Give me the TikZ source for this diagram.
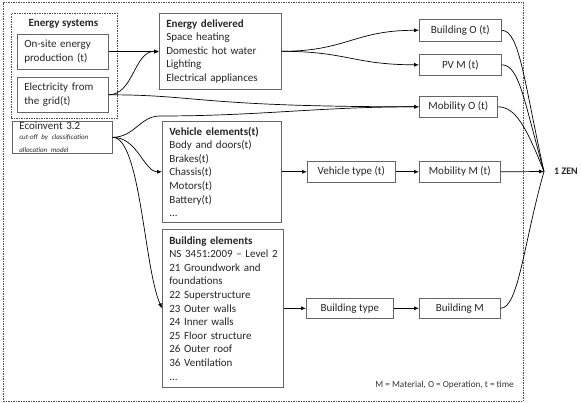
\documentclass[tikz,border=0pt]{standalone}
\usepackage{fontspec}
\setmainfont{Carlito}
\usetikzlibrary{arrows.meta}
\begin{document}
\begin{tikzpicture}[x=1pt,y=-1pt,
  txt/.style={text=black!85, font=\fontsize{11}{13.6}\selectfont},
  box/.style={txt, draw=black!60, line width=0.6pt, fill=white, inner ysep=0pt, inner xsep=7pt, anchor=north west},
  lbox/.style={box, align=left, text width=#1},
  sbox/.style={box, inner xsep=0pt, align=center},
  frame/.style={draw=black!70, line width=0.6pt, dash pattern=on 1.5pt off 1pt, anchor=north west, inner sep=0pt},
  conn/.style={line width=0.7pt, black},
  arr/.style={conn, -{Latex[length=5pt,width=4pt]}}]
\useasboundingbox (0,0) rectangle (582,403);
% frames
\node[frame, minimum width=520pt, minimum height=399pt] (outer) at (3,2) {};
\node[frame, minimum width=106pt, minimum height=105pt] (es) at (11,13) {};
\node[txt, font=\fontsize{11}{13.6}\selectfont\bfseries, anchor=west] (estitle) at (25,24) {Energy systems};
% left boxes
\node[lbox=77pt, minimum height=35pt] (onsite) at (17,34) {On-site energy\\production (t)};
\node[lbox=77pt, minimum height=35pt] (elec) at (17,77) {Electricity from\\the grid(t)};
\node[lbox=86pt, minimum height=32pt] (eco) at (12,121) {Ecoinvent 3.2\par\vspace{1.5pt}\fontsize{7}{8.3}\selectfont\itshape \mbox{cut-off by classification}\\allocation model};
% middle boxes
\node[lbox=108pt, minimum height=76pt] (ed) at (159,13) {\textbf{Energy delivered}\\Space heating\\Domestic hot water\\Lighting\\Electrical appliances};
\node[lbox=105pt, minimum height=101pt] (vehel) at (162,121) {\textbf{Vehicle elements(t)}\\Body and doors(t)\\Brakes(t)\\Chassis(t)\\Motors(t)\\Battery(t)\\...};
\node[lbox=107pt, minimum height=158pt] (bldel) at (162,229) {\textbf{Building elements}\\\mbox{NS 3451:2009 -- Level 2}\\21 Groundwork and\\foundations\\22 Superstructure\\23 Outer walls\\24 Inner walls\\25 Floor structure\\26 Outer roof\\36 Ventilation\\...};
% right boxes
\node[sbox, minimum width=82pt, minimum height=22pt] (bO) at (419,19) {Building O (t)};
\node[sbox, minimum width=82pt, minimum height=21pt] (pvM) at (419,54) {PV M (t)};
\node[sbox, minimum width=78pt, minimum height=21pt] (mobO) at (419,96) {Mobility O (t)};
\node[sbox, minimum width=88pt, minimum height=21pt] (vtype) at (307,161) {Vehicle type (t)};
\node[sbox, minimum width=81pt, minimum height=21pt] (mobM) at (419,161) {Mobility M (t)};
\node[sbox, minimum width=87pt, minimum height=20pt] (btype) at (306,298) {Building type};
\node[sbox, minimum width=81pt, minimum height=20pt] (bM) at (419,298) {Building M};
% ZEN
\node[txt, font=\fontsize{10}{12}\selectfont\bfseries, anchor=west, inner xsep=0pt] (zen) at (554,171.5) {1 ZEN};
\coordinate (zp) at (544,171.5);
% legend
\node[text=black!80, font=\fontsize{9.2}{11}\selectfont, anchor=east, inner sep=0pt] (legend) at (514,385) {M = Material, O = Operation, t = time};
\coordinate (ecomid) at (160,116);
% connectors
\draw[arr] (onsite.east) -- (onsite.east -| ed.west);
\draw[arr] (elec.east) .. controls +(25,0) and +(-25,0) .. (ed.west);
\draw[arr] (elec.east) .. controls +(90,0) and +(-220,0) .. (mobO.west);
\draw[arr] (eco.east) .. controls +(22,0) and +(-20,0) .. (ecomid) .. controls +(100,0) and +(-100,0) .. (mobO.west);
\draw[arr] (eco.east) .. controls +(25,0) and +(-18,0) .. (vehel.west);
\draw[arr] (eco.east) .. controls +(28,0) and +(-18,-40) .. (bldel.west);
\draw[arr] (ed.east) .. controls +(65,0) and +(-65,0) .. (bO.west);
\draw[arr] (ed.east) .. controls +(65,0) and +(-65,0) .. (pvM.west);
\draw[arr] (vehel.east) -- (vtype.west);
\draw[arr] (vtype.east) -- (mobM.west);
\draw[arr] (bldel.east) -- (btype.west);
\draw[arr] (btype.east) -- (bM.west);
\draw[arr] (mobM.east) -- (zp);
\draw[conn] (bO.east) .. controls +(18,0) and +(-20,-90) .. (zp);
\draw[conn] (pvM.east) .. controls +(18,0) and +(-20,-70) .. (zp);
\draw[conn] (mobO.east) .. controls +(18,0) and +(-18,-45) .. (zp);
\draw[conn] (bM.east) .. controls +(18,0) and +(-20,70) .. (zp);
\end{tikzpicture}
\end{document}
